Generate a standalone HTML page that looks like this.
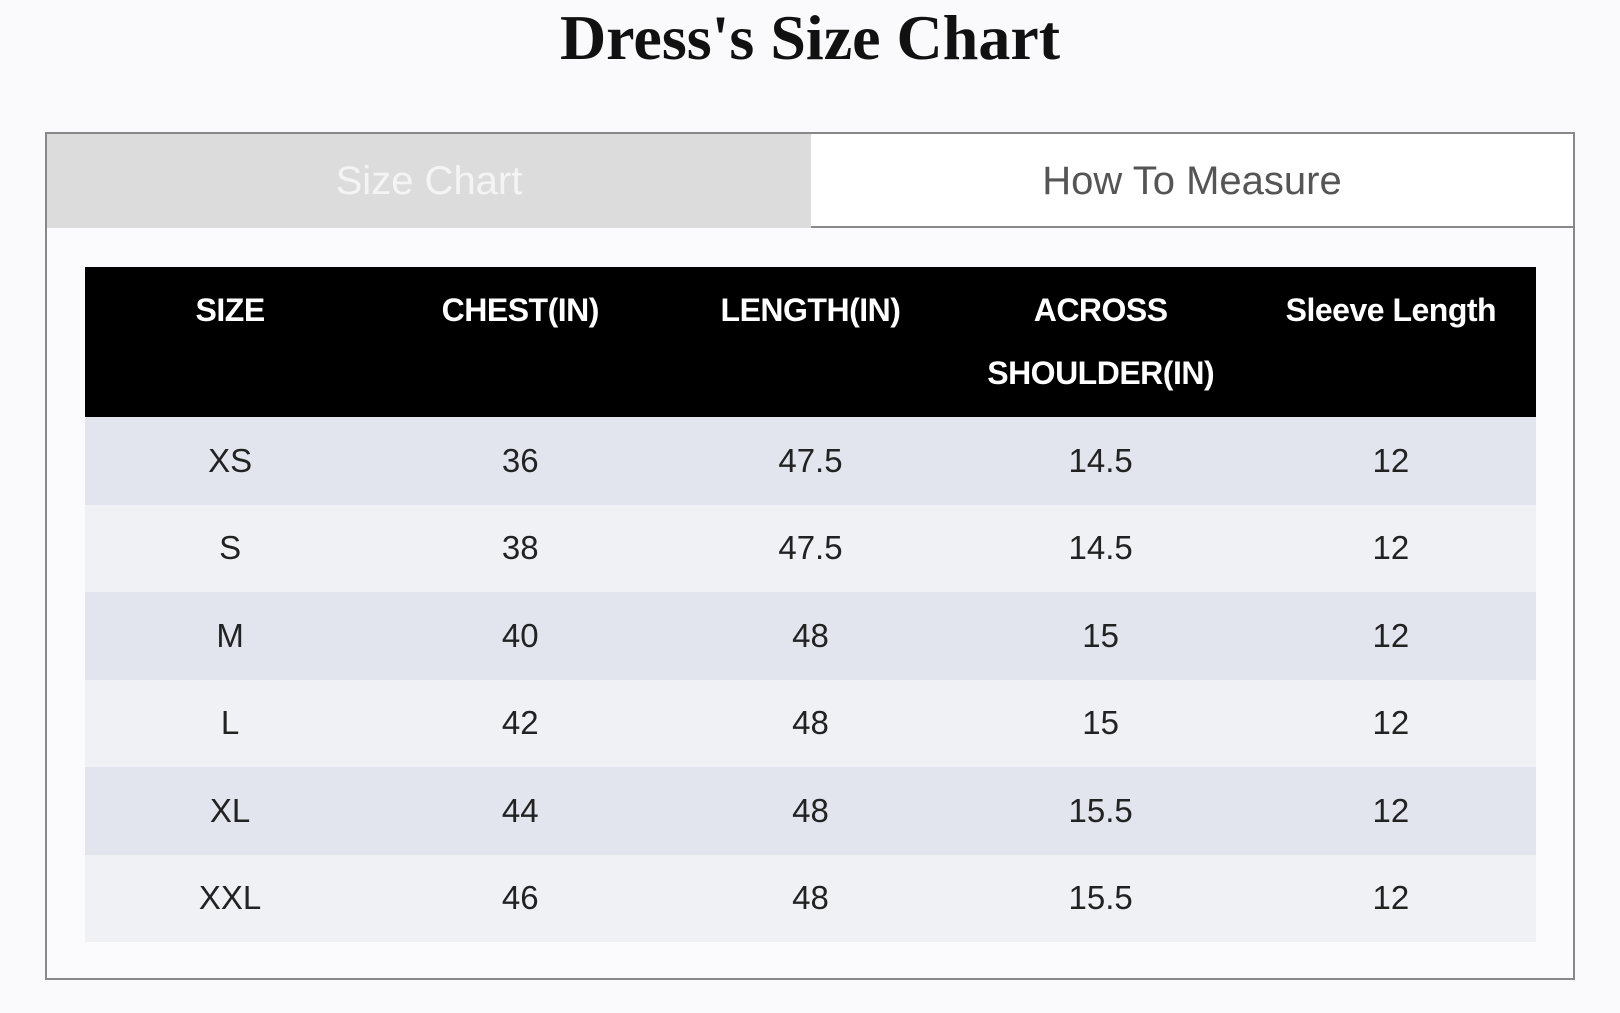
<!DOCTYPE html>
<html><head><meta charset="utf-8"><style>
*{margin:0;padding:0;box-sizing:border-box}
body{width:1620px;height:1013px;background:#fafafc;position:relative;overflow:hidden;font-family:"Liberation Sans",sans-serif}
h1{position:absolute;top:0;left:0;width:1620px;text-align:center;font-family:"Liberation Serif",serif;font-weight:bold;font-size:64px;line-height:76px;color:#111}
.box{position:absolute;left:45px;top:132px;width:1530px;height:848px;border:2px solid #888;background:#fbfbfd}
.tab1{position:absolute;left:0;top:0;width:764px;height:94px;background:#dcdcdc;color:#f4f4f4;font-size:40px;text-align:center;line-height:94px}
.tab2{position:absolute;left:764px;top:0;right:0;height:94px;border-bottom:2px solid #888;color:#555;font-size:40px;text-align:center;line-height:94px;background:#fff}
table{position:absolute;left:38px;top:133px;width:1451px;border-collapse:collapse}
th{background:#000;color:#fff;font-size:32px;font-weight:bold;height:150px;vertical-align:top;padding-top:12px;line-height:63px;width:290px;letter-spacing:-0.5px}
td{height:87.5px;text-align:center;font-size:33px;color:#222}
tr:nth-child(odd) td{background:#e2e5ee}
tr:nth-child(even) td{background:#f0f1f5}
</style></head><body>
<h1>Dress's Size Chart</h1>
<div class="box">
<div class="tab1">Size Chart</div>
<div class="tab2">How To Measure</div>
<table>
<thead><tr><th>SIZE</th><th>CHEST(IN)</th><th>LENGTH(IN)</th><th>ACROSS<br>SHOULDER(IN)</th><th>Sleeve Length</th></tr></thead>
<tbody>
<tr><td>XS</td><td>36</td><td>47.5</td><td>14.5</td><td>12</td></tr>
<tr><td>S</td><td>38</td><td>47.5</td><td>14.5</td><td>12</td></tr>
<tr><td>M</td><td>40</td><td>48</td><td>15</td><td>12</td></tr>
<tr><td>L</td><td>42</td><td>48</td><td>15</td><td>12</td></tr>
<tr><td>XL</td><td>44</td><td>48</td><td>15.5</td><td>12</td></tr>
<tr><td>XXL</td><td>46</td><td>48</td><td>15.5</td><td>12</td></tr>
</tbody></table>
</div>
</body></html>
